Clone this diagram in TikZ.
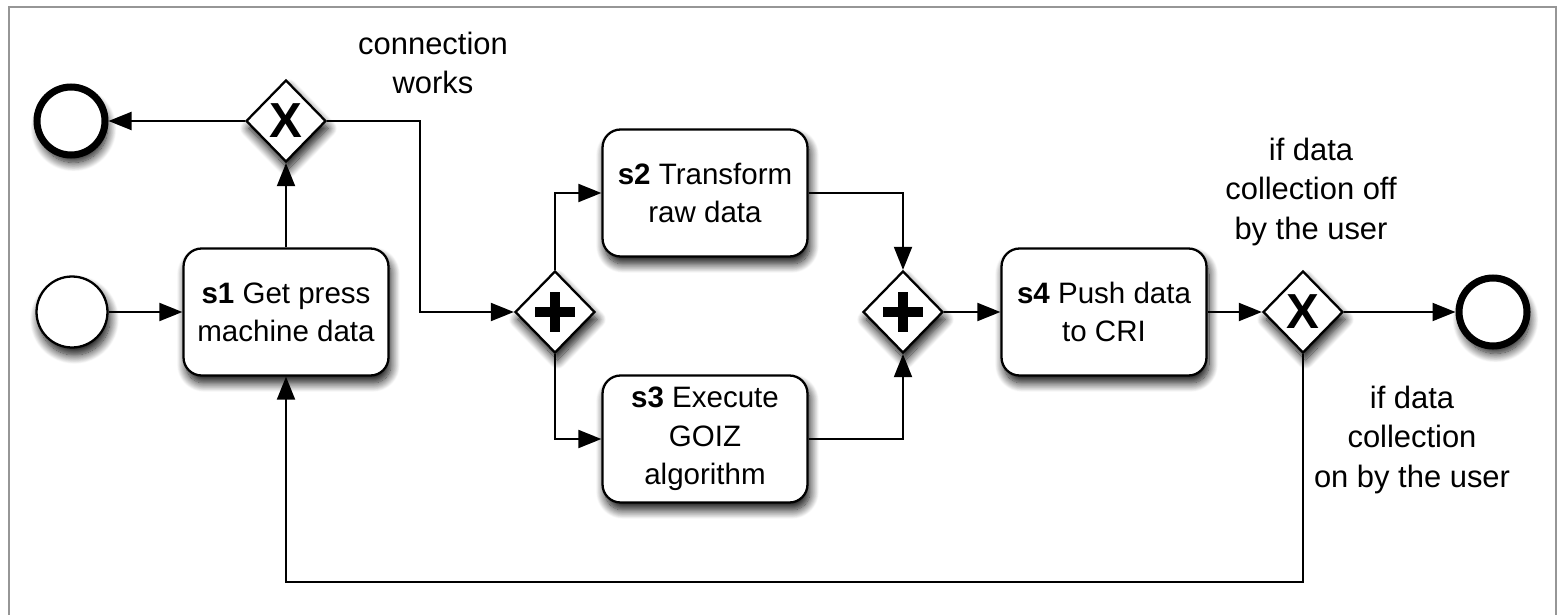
\documentclass[tikz,border=0pt]{standalone}
\usepackage{fontspec}
\setmainfont{Liberation Sans}
\usetikzlibrary{arrows.meta,shapes.geometric,shadows.blur}
\begin{document}
\begin{tikzpicture}[x=0.02cm,y=-0.02cm,
  shadowed/.style={blur shadow={shadow xshift=0.05cm,shadow yshift=-0.15cm,shadow blur radius=0.18cm,shadow blur steps=14,shadow opacity=95}},
  task/.style={draw,line width=1.3pt,rounded corners=0.36cm,minimum width=4.1cm,minimum height=2.54cm,fill=white,align=center,inner sep=0,font=\fontsize{16.8}{21.8}\selectfont,shadowed},
  gate/.style={diamond,draw,line width=1.3pt,fill=white,minimum width=1.6cm,minimum height=1.64cm,inner sep=0,shadowed},
  startev/.style={circle,draw,line width=1.3pt,fill=white,minimum size=1.42cm,inner sep=0,shadowed},
  endev/.style={circle,draw,line width=4pt,fill=white,minimum size=1.36cm,inner sep=0,shadowed},
  lbl/.style={align=center,font=\fontsize{17.6}{22.4}\selectfont,inner sep=0},
  xmark/.style={font=\fontsize{28}{28}\selectfont\bfseries,inner sep=0},
  flow/.style={-{Triangle[length=0.46cm,width=0.36cm]},line width=1.1pt},
  plusarm/.style={line width=0.2cm}
]
\useasboundingbox (0,0) rectangle (1559,615);
\draw[line width=1.1pt,draw={rgb,255:red,150;green,150;blue,150}] (9,615) -- (9,7) -- (1556,7) -- (1556,615);

% nodes
\node[startev] (start) at (72,312) {};
\node[task] (s1) at (286,312) {\textbf{s1} Get press\\machine data};
\node[gate] (g1) at (286,121) {};
\node[xmark] (g1x) at (286,121) {X};
\node[endev] (end1) at (71,121) {};
\node[gate] (p1) at (555,312) {};
\node[task] (s2) at (705,193) {\textbf{s2} Transform\\raw data};
\node[task] (s3) at (705,439) {\textbf{s3} Execute\\GOIZ\\algorithm};
\node[gate] (p2) at (903,312) {};
\node[task] (s4) at (1104,312) {\textbf{s4} Push data\\to CRI};
\node[gate] (g2) at (1303,312) {};
\node[xmark] (g2x) at (1303,312) {X};
\node[endev] (end2) at (1493,312) {};

\draw[plusarm] ([xshift=-0.4cm]p1.center) -- ([xshift=0.4cm]p1.center);
\draw[plusarm] ([yshift=-0.4cm]p1.center) -- ([yshift=0.4cm]p1.center);
\draw[plusarm] ([xshift=-0.4cm]p2.center) -- ([xshift=0.4cm]p2.center);
\draw[plusarm] ([yshift=-0.4cm]p2.center) -- ([yshift=0.4cm]p2.center);

% labels
\node[lbl] (lab1) at (433,63) {connection\\works};
\node[lbl] (lab2) at (1311,192) {if data\\collection off\\by the user};
\node[lbl] (lab3) at (1412,440) {if data\\collection\\on by the user};

% coordinates
\coordinate (k1) at (420,312);
\coordinate (k2) at (286,582);

% connectors
\draw[flow] (start) -- (s1);
\draw[flow] (s1) -- (g1);
\draw[flow] (g1) -- (end1);
\draw[flow] (g1.east) -| (k1) -- (p1.west);
\draw[flow] (p1.north) |- (s2.west);
\draw[flow] (p1.south) |- (s3.west);
\draw[flow] (s2.east) -| (p2.north);
\draw[flow] (s3.east) -| (p2.south);
\draw[flow] (p2) -- (s4);
\draw[flow] (s4) -- (g2);
\draw[flow] (g2) -- (end2);
\draw[flow] (g2.south) |- (k2) -- (s1.south);
\end{tikzpicture}
\end{document}
